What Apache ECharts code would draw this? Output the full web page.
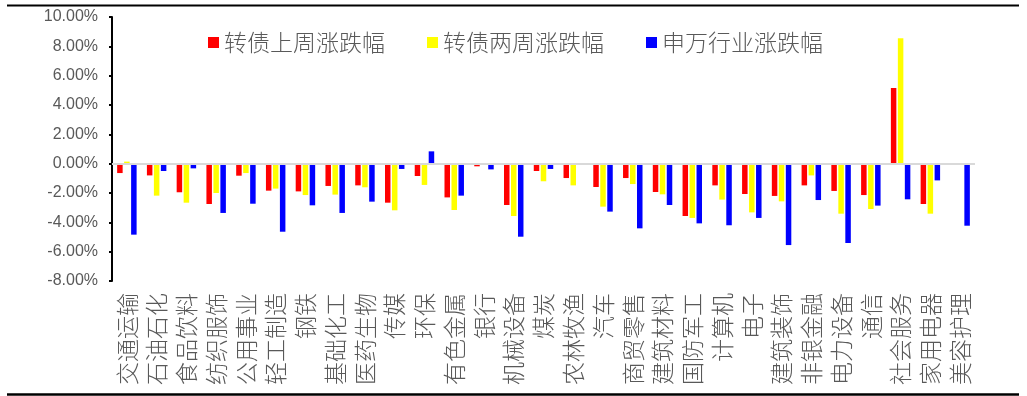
<!DOCTYPE html>
<html>
<head>
<meta charset="utf-8">
<script src="https://cdn.jsdelivr.net/npm/echarts@6/dist/echarts.min.js"></script>
<style>
  html, body { margin: 0; padding: 0; background: #fff; }
  #chart { width: 1027px; height: 396px; }
</style>
</head>
<body>
<div id="chart"></div>
<script>
// 申万一级行业
const categories = ['交通运输','石油石化','食品饮料','纺织服饰','公用事业','轻工制造','钢铁','基础化工','医药生物','传媒',
  '环保','有色金属','银行','机械设备','煤炭','农林牧渔','汽车','商贸零售','建筑材料','国防军工',
  '计算机','电子','建筑装饰','非银金融','电力设备','通信','社会服务','家用电器','美容护理'];

// 涨跌幅（%）
const cbLastWeek = [-0.64,-0.80,-1.95,-2.75,-0.82,-1.84,-1.89,-1.52,-1.48,-2.66,
  -0.84,-2.30,-0.18,-2.82,-0.50,-0.98,-1.59,-0.98,-1.93,-3.57,
  -1.48,-2.07,-2.20,-1.48,-1.86,-2.14,5.16,-2.75,0];
const cbTwoWeeks = [0.14,-2.18,-2.66,-2.00,-0.64,-1.70,-2.14,-2.11,-1.61,-3.18,
  -1.45,-3.16,0,-3.57,-1.20,-1.48,-2.93,-1.39,-2.09,-3.70,
  -2.45,-3.32,-2.57,-0.80,-3.41,-3.09,8.55,-3.41,0];
const swIndustry = [-4.84,-0.50,-0.32,-3.36,-2.73,-4.64,-2.84,-3.36,-2.59,-0.36,
  0.84,-2.18,-0.39,-4.98,-0.36,0,-3.27,-4.41,-2.82,-4.07,
  -4.20,-3.70,-5.55,-2.48,-5.41,-2.86,-2.43,-1.14,-4.23];

const seriesNames = ['转债上周涨跌幅','转债两周涨跌幅','申万行业涨跌幅'];
const yTicks = { min: -8, max: 10, step: 2 };

const CJK = '"Noto Sans CJK SC", sans-serif';
const TXT = '#595959';

const chart = echarts.init(document.getElementById('chart'), null, { renderer: 'canvas' });

const barCommon = { type: 'bar', barWidth: 5.5, barGap: '27%' };

chart.setOption({
  animation: false,
  backgroundColor: '#fff',
  grid: { left: 112, right: 52, top: 17, bottom: 115, containLabel: false },
  legend: {
    data: seriesNames,
    left: 203, top: 26, padding: 5,
    icon: 'rect', itemWidth: 11, itemHeight: 11, itemGap: 42,
    textStyle: { fontFamily: CJK, fontSize: 23, fontWeight: 300, color: TXT }
  },
  xAxis: {
    type: 'category',
    data: categories,
    axisLine: { show: false },
    axisTick: { show: false },
    axisLabel: {
      interval: 0, rotate: 90, margin: 12,
      fontFamily: CJK, fontSize: 23, fontWeight: 300, color: TXT
    }
  },
  yAxis: {
    type: 'value',
    min: yTicks.min, max: yTicks.max, interval: yTicks.step,
    axisLine: { show: true, lineStyle: { color: '#000', width: 2 } },
    axisTick: { show: true, length: 3, lineStyle: { color: '#000', width: 2 } },
    splitLine: { show: false },
    axisLabel: {
      margin: 14,
      fontFamily: '"Liberation Sans", Arial, sans-serif', fontSize: 16, color: TXT,
      formatter: v => v.toFixed(2) + '%'
    }
  },
  series: [
    Object.assign({}, barCommon, {
      name: seriesNames[0], data: cbLastWeek, itemStyle: { color: '#FF0000' },
      markLine: {
        silent: true, symbol: 'none', label: { show: false },
        lineStyle: { color: '#D9D9D9', width: 2, type: 'solid' },
        data: [{ yAxis: 0 }]
      }
    }),
    Object.assign({}, barCommon, { name: seriesNames[1], data: cbTwoWeeks, itemStyle: { color: '#FFFF00' } }),
    Object.assign({}, barCommon, { name: seriesNames[2], data: swIndustry, itemStyle: { color: '#0000FF' } })
  ],
  graphic: [
    { type: 'line', shape: { x1: 7, y1: 5.5, x2: 1019, y2: 5.5 }, style: { stroke: '#000', lineWidth: 2 }, silent: true },
    { type: 'line', shape: { x1: 7, y1: 394.5, x2: 1019, y2: 394.5 }, style: { stroke: '#000', lineWidth: 2.5 }, silent: true }
  ]
});
</script>
</body>
</html>
